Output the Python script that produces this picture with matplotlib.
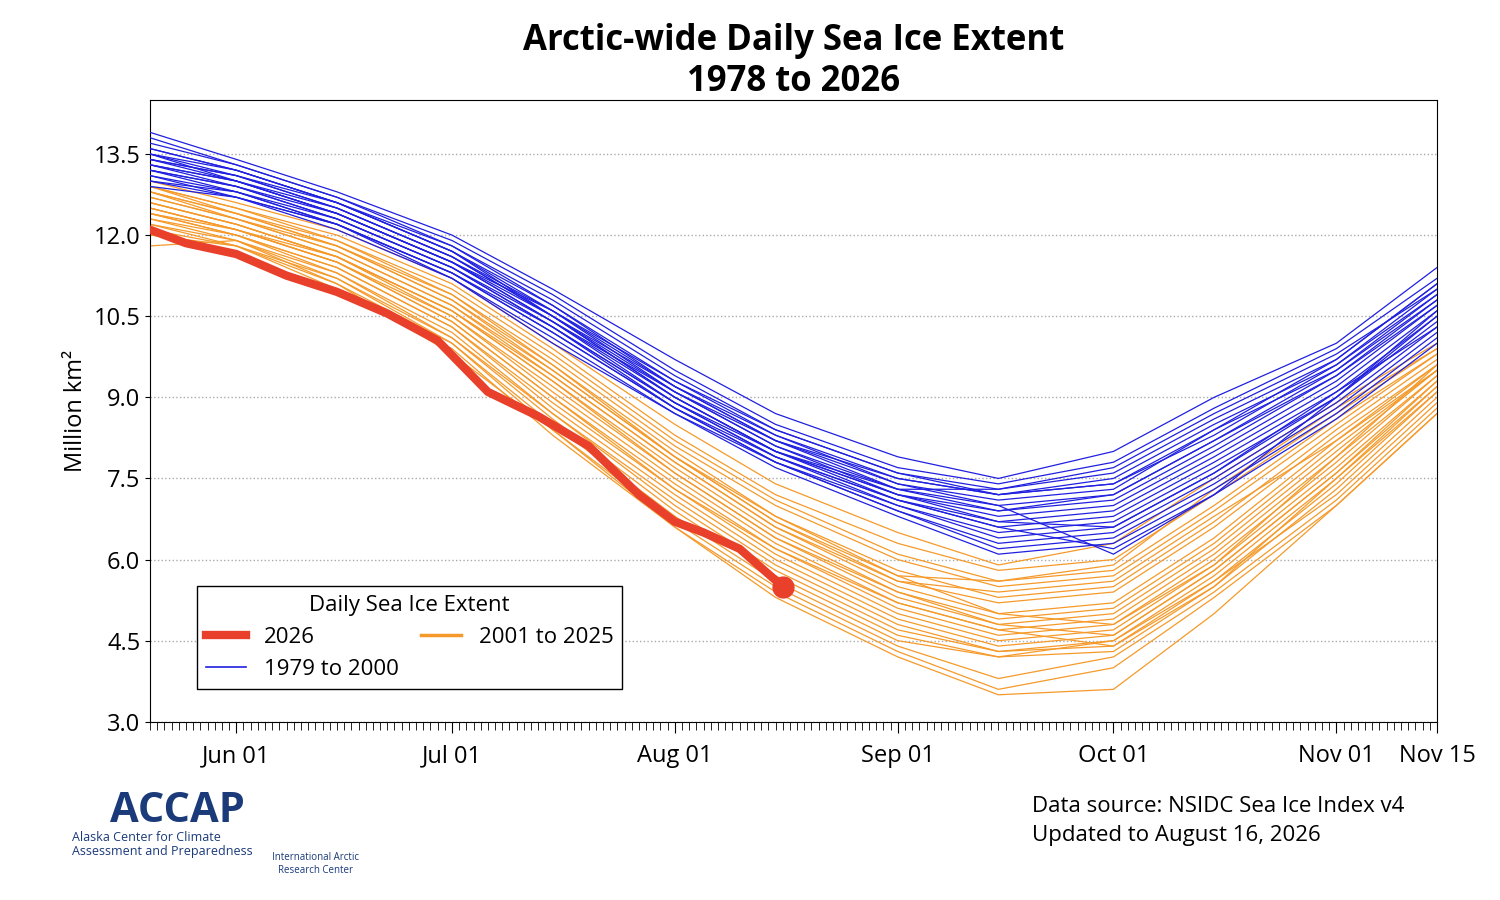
import matplotlib
matplotlib.use('Agg')
import matplotlib.pyplot as plt
import matplotlib.dates as mdates
import numpy as np
from datetime import date, timedelta
from matplotlib.lines import Line2D

plt.rcParams['font.family'] = ['Open Sans', 'DejaVu Sans']

# anchor dates (days after May 20) used for all historical years
anchor_days = [0, 12, 26, 42, 56, 73, 87, 104, 118, 134, 148, 165, 179]

blue_years = [
    [13.9, 13.4, 12.8, 12.0, 11.0, 9.7, 8.7, 7.9, 7.5, 8.0, 9.0, 10.0, 11.4],
    [13.8, 13.3, 12.7, 11.9, 10.9, 9.5, 8.5, 7.7, 7.4, 7.8, 8.8, 9.9, 11.2],
    [13.7, 13.3, 12.7, 11.8, 10.8, 9.4, 8.4, 7.6, 7.3, 7.6, 8.6, 9.7, 11.1],
    [13.6, 13.2, 12.6, 11.8, 10.7, 9.3, 8.3, 7.5, 7.2, 7.5, 8.5, 9.6, 11.0],
    [13.5, 13.2, 12.6, 11.7, 10.6, 9.2, 8.2, 7.4, 7.1, 7.3, 8.4, 9.5, 10.9],
    [13.5, 13.1, 12.5, 11.6, 10.6, 9.1, 8.1, 7.3, 7.0, 7.2, 8.2, 9.5, 10.8],
    [13.4, 13.1, 12.5, 11.6, 10.5, 9.1, 8.1, 7.2, 6.9, 7.1, 8.1, 9.4, 10.8],
    [13.4, 13.0, 12.4, 11.5, 10.5, 9.0, 8.0, 7.2, 6.8, 7.0, 8.0, 9.3, 10.7],
    [13.3, 13.0, 12.4, 11.5, 10.4, 9.0, 8.0, 7.1, 6.7, 6.9, 7.9, 9.2, 10.6],
    [13.3, 12.9, 12.3, 11.4, 10.4, 8.9, 7.9, 7.1, 6.6, 6.8, 7.8, 9.1, 10.5],
    [13.2, 12.9, 12.3, 11.4, 10.3, 8.9, 7.9, 7.0, 6.5, 6.7, 7.7, 9.0, 10.5],
    [13.2, 12.8, 12.2, 11.3, 10.3, 8.8, 7.8, 7.0, 6.4, 6.6, 7.6, 9.0, 10.4],
    [13.1, 12.8, 12.2, 11.3, 10.2, 8.8, 7.8, 6.9, 6.3, 6.5, 7.5, 8.9, 10.3],
    [13.1, 12.7, 12.2, 11.2, 10.1, 8.7, 7.8, 6.9, 6.2, 6.4, 7.4, 8.8, 10.2],
    [13.0, 12.7, 12.1, 11.2, 10.0, 8.7, 7.7, 6.8, 6.1, 6.3, 7.3, 8.7, 10.1],
    [12.9, 12.7, 12.2, 11.3, 10.2, 8.8, 7.9, 7.1, 6.6, 6.2, 7.2, 8.6, 10.0],
    [13.6, 13.2, 12.6, 11.7, 10.5, 9.0, 8.0, 7.3, 7.3, 7.7, 8.7, 9.8, 11.0],
    [13.3, 13.0, 12.5, 11.6, 10.5, 9.2, 8.3, 7.4, 7.0, 6.1, 7.2, 9.0, 10.6],
    [13.2, 12.9, 12.4, 11.5, 10.6, 9.3, 8.4, 7.6, 7.2, 7.4, 8.3, 9.6, 10.9],
    [13.4, 13.1, 12.6, 11.7, 10.7, 9.2, 8.2, 7.3, 6.9, 7.2, 8.2, 9.4, 10.7],
    [13.0, 12.8, 12.3, 11.4, 10.3, 8.9, 8.0, 7.2, 6.7, 6.6, 7.6, 9.1, 10.3],
    [13.5, 13.0, 12.4, 11.5, 10.4, 9.1, 8.2, 7.5, 7.2, 7.4, 8.4, 9.7, 11.1],
]

orange_years = [
    [13.0, 12.6, 12.1, 11.2, 10.0, 8.5, 7.4, 6.5, 5.9, 6.3, 7.5, 8.9, 10.0],
    [12.9, 12.5, 12.0, 11.1, 9.9, 8.3, 7.2, 6.3, 5.8, 6.0, 7.2, 8.7, 9.9],
    [12.9, 12.5, 11.9, 11.0, 9.8, 8.2, 7.1, 6.1, 5.6, 5.8, 7.0, 8.6, 9.8],
    [12.8, 12.4, 11.9, 10.9, 9.7, 8.1, 7.0, 6.0, 5.5, 5.7, 6.9, 8.5, 9.8],
    [12.8, 12.4, 11.8, 10.8, 9.6, 8.0, 6.8, 5.8, 5.3, 5.5, 6.7, 8.4, 9.7],
    [12.7, 12.3, 11.7, 10.7, 9.5, 7.9, 6.7, 5.6, 5.2, 5.4, 6.6, 8.3, 9.6],
    [12.7, 12.3, 11.7, 10.7, 9.4, 7.8, 6.6, 5.5, 5.0, 5.2, 6.4, 8.2, 9.6],
    [12.6, 12.2, 11.6, 10.6, 9.3, 7.7, 6.5, 5.4, 4.9, 5.1, 6.3, 8.1, 9.5],
    [12.6, 12.2, 11.6, 10.5, 9.2, 7.6, 6.4, 5.3, 4.8, 5.0, 6.2, 8.0, 9.5],
    [12.5, 12.1, 11.5, 10.5, 9.1, 7.5, 6.3, 5.2, 4.7, 4.9, 6.1, 7.9, 9.4],
    [12.5, 12.1, 11.5, 10.4, 9.0, 7.4, 6.2, 5.1, 4.6, 4.8, 6.0, 7.8, 9.4],
    [12.4, 12.0, 11.4, 10.3, 8.9, 7.3, 6.1, 5.0, 4.5, 4.7, 5.9, 7.7, 9.3],
    [12.4, 12.0, 11.4, 10.3, 8.8, 7.2, 6.0, 4.9, 4.4, 4.6, 5.8, 7.6, 9.3],
    [12.3, 12.0, 11.3, 10.2, 8.7, 7.1, 5.9, 4.8, 4.3, 4.5, 5.7, 7.5, 9.2],
    [12.3, 11.9, 11.3, 10.1, 8.7, 7.0, 5.8, 4.7, 4.3, 4.4, 5.6, 7.4, 9.1],
    [12.2, 11.9, 11.2, 10.1, 8.6, 6.9, 5.7, 4.6, 4.2, 4.3, 5.5, 7.3, 9.0],
    [12.2, 11.8, 11.2, 10.0, 8.5, 6.8, 5.6, 4.5, 4.2, 4.5, 5.6, 7.2, 8.9],
    [12.1, 11.8, 11.1, 10.0, 8.4, 6.7, 5.5, 4.4, 3.8, 4.2, 5.4, 7.1, 8.8],
    [12.0, 11.8, 11.0, 9.9, 8.3, 6.6, 5.4, 4.3, 3.6, 4.0, 5.3, 7.0, 8.7],
    [11.8, 11.9, 11.1, 9.8, 8.4, 6.6, 5.3, 4.2, 3.5, 3.6, 5.0, 7.0, 8.7],
    [12.8, 12.3, 11.8, 10.9, 9.6, 7.9, 6.7, 5.7, 5.6, 5.9, 7.3, 8.8, 9.9],
    [12.6, 12.2, 11.6, 10.6, 9.4, 7.8, 6.6, 5.6, 5.4, 5.6, 6.8, 8.2, 9.5],
    [12.5, 12.1, 11.6, 10.6, 9.3, 7.6, 6.4, 5.4, 4.8, 4.6, 5.8, 7.6, 9.2],
    [12.9, 12.4, 11.8, 10.8, 9.5, 7.9, 6.8, 5.7, 5.0, 4.8, 5.9, 7.9, 9.6],
    [12.4, 12.1, 11.5, 10.4, 9.0, 7.3, 6.2, 5.2, 4.7, 4.4, 5.5, 7.5, 9.1],
]

# 2026 so far
days_2026 = [0, 5, 12, 19, 26, 33, 40, 47, 54, 61, 68, 73, 77, 82, 88]
ext_2026 = [12.1, 11.85, 11.65, 11.25, 10.95, 10.55, 10.05, 9.1, 8.65, 8.1, 7.2,
            6.7, 6.5, 6.2, 5.5]

start = date(2026, 5, 20)
anchor_dates = [start + timedelta(days=d) for d in anchor_days]
dates_2026 = [start + timedelta(days=d) for d in days_2026]

fig = plt.figure(figsize=(15, 9), dpi=100)
ax = fig.add_axes([0.1, 0.198, 0.858, 0.691])

for row in blue_years:
    ax.plot(anchor_dates, row, color='#2020e0', lw=0.9, zorder=3)
for row in orange_years:
    ax.plot(anchor_dates, row, color='#f59a2a', lw=0.9, zorder=2)
ax.plot(dates_2026, ext_2026, color='#e8402a', lw=6, solid_capstyle='round', zorder=5)
ax.plot(dates_2026[-1], ext_2026[-1], 'o', color='#e8402a', ms=15, zorder=6)

ax.set_xlim(start, date(2026, 11, 15))
ax.set_ylim(3.0, 14.5)
ax.set_yticks(np.arange(3.0, 14.0, 1.5))
ax.yaxis.set_major_formatter(matplotlib.ticker.FormatStrFormatter('%.1f'))
ax.grid(axis='y', ls=':', color='#aaaaaa', lw=1)
ax.set_axisbelow(True)

tick_dates = [date(2026, 6, 1), date(2026, 7, 1), date(2026, 8, 1), date(2026, 9, 1),
              date(2026, 10, 1), date(2026, 11, 1), date(2026, 11, 15)]
tick_labels = ['Jun 01', 'Jul 01', 'Aug 01', 'Sep 01', 'Oct 01', 'Nov 01', 'Nov 15']
ax.set_xticks(tick_dates)
ax.set_xticklabels(tick_labels)
ax.xaxis.set_minor_locator(mdates.DayLocator())
ax.tick_params(axis='x', which='major', length=8, labelsize=17, pad=8)
ax.tick_params(axis='x', which='minor', length=6)
ax.tick_params(axis='y', labelsize=17)
ax.set_ylabel('Million km²', fontsize=17)

ax.set_title('Arctic-wide Daily Sea Ice Extent\n1978 to 2026', fontsize=25,
             fontweight='bold', pad=6)

handles = [Line2D([], [], color='#e8402a', lw=6),
           Line2D([], [], color='#2020e0', lw=1.2),
           Line2D([], [], color='#f59a2a', lw=2.5)]
leg = ax.legend(handles, ['2026', '1979 to 2000', '2001 to 2025'], ncol=2,
                title='Daily Sea Ice Extent', loc='lower left',
                bbox_to_anchor=(0.028, 0.035), fontsize=16, title_fontsize=16,
                fancybox=False, edgecolor='black', framealpha=1,
                handlelength=1.8, columnspacing=1.0)
leg.get_frame().set_linewidth(1)

fig.text(0.688, 0.088, 'Data source: NSIDC Sea Ice Index v4\nUpdated to August 16, 2026',
         fontsize=16, va='center', linespacing=1.5)
fig.text(0.073, 0.087, 'ACCAP', fontsize=30, fontweight='bold', color='#1a3a7a')
fig.text(0.048, 0.05, 'Alaska Center for Climate\nAssessment and Preparedness',
         fontsize=9, color='#1a3a7a', linespacing=1.1)
fig.text(0.21, 0.03, 'International Arctic\nResearch Center', fontsize=7,
         color='#1a3a7a', ha='center')

fig.savefig('out.png', dpi=100)
